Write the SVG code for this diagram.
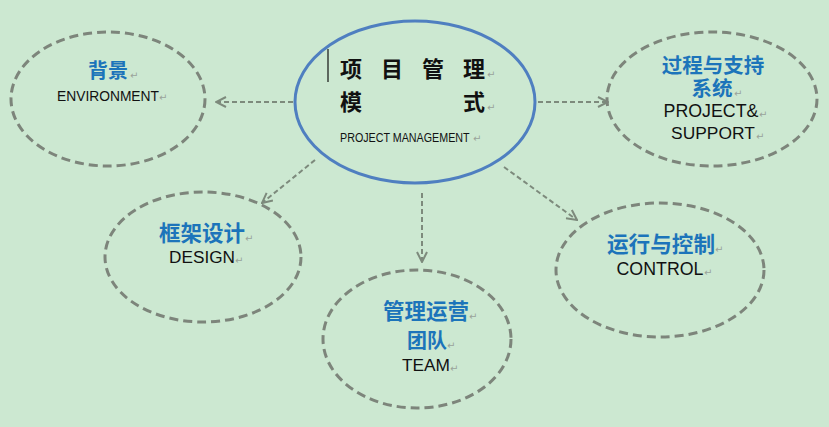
<svg xmlns="http://www.w3.org/2000/svg" width="829" height="427" viewBox="0 0 829 427">
<defs>
<style>
.bg{fill:#cce8d1}
.node{fill:none;stroke:#7d857b;stroke-width:3;stroke-dasharray:9 5}
.center{fill:none;stroke:#4f7fc0;stroke-width:3}
.conn{fill:none;stroke:#7d8a7c;stroke-width:2;stroke-dasharray:5 3}
.cn{font-family:"Noto Sans CJK SC","Noto Sans CJK TC",sans-serif;font-weight:bold;fill:#1c74ba;text-anchor:middle}
.cn2{font-family:"Liberation Sans","Noto Sans CJK SC",sans-serif;font-weight:bold;fill:#1c74ba;text-anchor:middle}
.en{font-family:"Liberation Sans",Arial,sans-serif;fill:#111;text-anchor:middle}
.big{font-family:"Noto Sans CJK SC","Noto Sans CJK TC",sans-serif;font-weight:bold;fill:#111;font-size:22px}
.pm{font-family:"DejaVu Sans",sans-serif;font-size:10px;fill:#9aa39a}
</style>
<marker id="arr" viewBox="0 0 12 12" refX="11" refY="6" markerWidth="12" markerHeight="12" markerUnits="userSpaceOnUse" orient="auto">
<path d="M1,1 L11,6 L1,11" fill="none" stroke="#7d8a7c" stroke-width="2"/>
</marker>
</defs>
<rect class="bg" x="0" y="0" width="829" height="427"/>

<g id="connectors">
<line class="conn" x1="293" y1="102" x2="216" y2="102" marker-end="url(#arr)"/>
<line class="conn" x1="538" y1="102" x2="608" y2="102" marker-end="url(#arr)"/>
<line class="conn" x1="315" y1="160" x2="262" y2="203" marker-end="url(#arr)"/>
<line class="conn" x1="504" y1="167" x2="577" y2="220" marker-end="url(#arr)"/>
<line class="conn" x1="422" y1="193" x2="422" y2="262" marker-end="url(#arr)"/>
</g>

<g id="center">
<ellipse class="center" cx="415" cy="102" rx="120" ry="81"/>
<line x1="328" y1="49" x2="328" y2="82" stroke="#111" stroke-width="1.2"/>
<text class="big" x="340" y="77">项</text>
<text class="big" x="381" y="77">目</text>
<text class="big" x="422" y="77">管</text>
<text class="big" x="463" y="77">理</text>
<text class="pm" x="487" y="78">↵</text>
<text class="big" x="340" y="110">模</text>
<text class="big" x="463" y="110">式</text>
<text class="pm" x="487" y="111">↵</text>
<text transform="translate(340,142) scale(0.825,1)" font-family="'Liberation Sans',Arial,sans-serif" font-size="13" fill="#111">PROJECT MANAGEMENT</text>
<text class="pm" x="473" y="142">↵</text>
</g>

<g id="environment">
<ellipse class="node" cx="108" cy="99" rx="97" ry="67"/>
<text class="cn" x="108" y="78" font-size="20">背景</text>
<text class="pm" x="130" y="79">↵</text>
<text class="en" x="108" y="101" font-size="13.8">ENVIRONMENT</text>
<text class="pm" x="159" y="101">↵</text>
</g>

<g id="support">
<ellipse class="node" cx="712" cy="99" rx="105" ry="67"/>
<text class="cn2" x="713" y="73" font-size="20.5">过程与支持</text>
<text class="cn2" x="712" y="96" font-size="20.5">系统</text>
<text class="pm" x="734" y="97">↵</text>
<text class="en" x="711" y="117" font-size="17.8">PROJECT&amp;</text>
<text class="pm" x="759" y="118">↵</text>
<text class="en" x="713" y="139" font-size="17.4">SUPPORT</text>
<text class="pm" x="756" y="140">↵</text>
</g>

<g id="design">
<ellipse class="node" cx="203" cy="257" rx="98" ry="65"/>
<text class="cn" x="202" y="241" font-size="21.5">框架设计</text>
<text class="pm" x="245" y="242">↵</text>
<text class="en" x="202" y="263" font-size="17.2">DESIGN</text>
<text class="pm" x="235" y="264">↵</text>
</g>

<g id="control">
<ellipse class="node" cx="660" cy="270" rx="104" ry="67"/>
<text class="cn" x="661" y="252" font-size="21.6">运行与控制</text>
<text class="pm" x="715" y="253">↵</text>
<text class="en" x="660" y="275" font-size="17.8">CONTROL</text>
<text class="pm" x="704" y="276">↵</text>
</g>

<g id="team">
<ellipse class="node" cx="417" cy="339" rx="94" ry="69"/>
<text class="cn" x="426" y="319" font-size="21.5">管理运营</text>
<text class="pm" x="469" y="320">↵</text>
<text class="cn" x="427" y="348" font-size="20">团队</text>
<text class="pm" x="447" y="349">↵</text>
<text class="en" x="426" y="371" font-size="17.3">TEAM</text>
<text class="pm" x="450" y="372">↵</text>
</g>
</svg>
